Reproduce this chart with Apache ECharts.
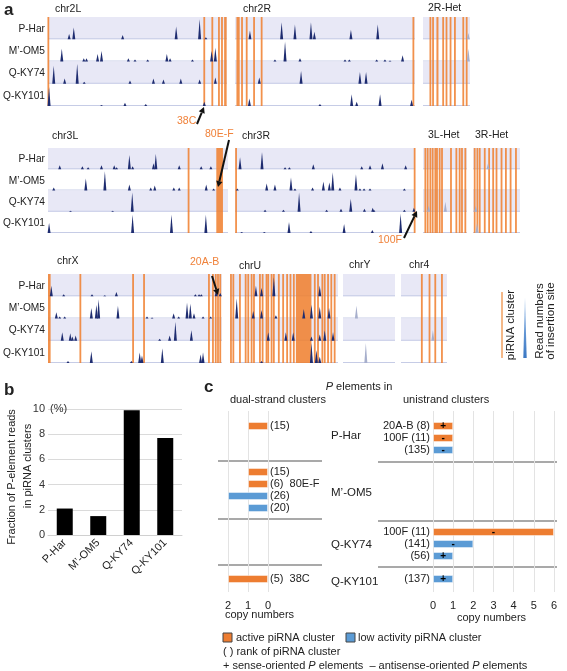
<!DOCTYPE html>
<html><head><meta charset="utf-8">
<script src="https://cdn.jsdelivr.net/npm/echarts@6/dist/echarts.min.js"></script>
<style>html,body{margin:0;padding:0;background:#fff}#c{width:567px;height:671px}</style>
</head><body><div id="c"></div>
<script>
// ---------------- DATA ----------------
const samples = ['P-Har', 'M\u2019-OM5', 'Q-KY74', 'Q-KY101'];

// Panel a: spikes per sample as [position (% of chromosome), relative read number]
const chr2L_spikes = [
  [[11.8,.25],[14.4,.55],[41.7,.2],[71.6,.6],[84.7,.95],[88.2,.1]],
  [[7.7,.6],[20,.15],[21.5,.15],[27.7,.35],[29.9,.5],[44.9,.15],[48.6,.1],[55.7,.1],[66.4,.35],[68.2,.15],[80.7,.1],[91.4,.5],[93.5,.65]],
  [[3.2,.85],[9.3,.25],[16.3,.95],[20.2,.1],[45.8,.15],[58.9,.25],[64.5,.2],[74.2,.25],[84.7,.2],[93.5,.3]],
  [[0.6,.9],[29.9,.05],[43,.15],[54.6,.1],[87.3,.2]]
];
const chr2L_clusters = [[0.2,0.2],[87.3,87.3],[91.8,91.8],[95.0,96.0],[96.8,97.6],[98.4,99.8]];
const chr2R_spikes = [
  [[8.3,.4],[25.9,.8],[33.3,.7],[42.2,.8],[44.1,.35],[64.4,.45],[79.3,.7]],
  [[22.2,.1],[27.8,.95],[36.1,.15],[61.1,.1],[63.5,.1],[78.7,.1],[83.3,.1],[86.1,.05],[93.1,.3]],
  [[13.5,.3],[36.7,.6],[69.4,.55],[72.8,.55]],
  [[8,.35],[47.2,.1],[64.8,.55],[67.6,.2],[80.6,.55],[98.1,.3]]
];
const chr2R_clusters = [[0.8,2.6],[3.4,4.4],[6.0,7.0],[10.6,10.6],[14.8,14.8],[99.1,99.1]];
const chr2RHet_spikes = [[[96.4,.3]],[[96.4,.6]],[],[]];
const chr2RHet_clusters = [[15.7,15.7],[21.4,21.4],[28.6,32.9],[42.9,42.9],[50,50],[58.6,58.6],[67.9,67.9],[85.7,85.7],[92.9,92.9]];
const chr3L_spikes = [
  [[6.5,.2],[19.1,.15],[22.3,.1],[29.7,.2],[36.8,.2],[38.1,.1],[45.2,.7],[47,.15],[58.6,.3],[59.9,.75],[72.9,.2],[85.1,.15],[90.5,.15]],
  [[3.2,.15],[21,.6],[31.6,.95],[45.2,.3],[57.1,.15],[59.3,.25],[69.9,.15],[72.9,.15],[87.9,.3],[92,.1]],
  [[12.5,.05],[35.9,.05],[46.8,.95]],
  [[0.6,.5],[47,.9],[68.6,.9],[87.7,.9]]
];
const chr3L_clusters = [[78.1,78.1],[93.5,97.2]];
const chr3R_spikes = [
  [[2.8,.6],[15,.85],[27.8,.1],[30.2,.1],[43.5,.25],[70.4,.15],[75,.2],[81.9,.3],[94.8,.2]],
  [[1.3,.1],[17.6,.35],[22.2,.3],[31.1,.65],[33.3,.1],[43.1,.15],[49.1,.45],[52.4,.4],[54.3,.9],[58.3,.15],[67.2,.8],[69.4,.1],[71.7,.1],[75,.1],[94.1,.1]],
  [[16.7,.1],[26.9,.1],[35.6,.95],[50.9,.1],[58.9,.15],[64.3,.65],[71.9,.15],[76.5,.2],[77.2,.1],[94.1,.1],[99.4,.2]],
  [[3.7,.05],[16.3,.05],[30,.55],[42.2,.1],[60.6,.45],[76.3,.15],[92,.95]]
];
const chr3R_clusters = [[0.6,0.6],[99.8,99.8]];
const chr3LHet_spikes = [[],[],[[12.9,.3],[50.8,.5]],[]];
const chr3LHet_clusters = [[5.3,5.3],[10.6,10.6],[16.7,16.7],[22,22],[28,28],[31.8,31.8],[37.9,37.9],[43.2,43.2],[63.6,63.6],[75.8,75.8],[83.3,83.3],[88.6,88.6],[96.2,96.2]];
const chr3RHet_spikes = [[[32.1,.3]],[],[[5.7,.3]],[[8.6,.5]]];
const chr3RHet_clusters = [[3.6,3.6],[9.3,9.3],[14.3,14.3],[25,25],[34.3,34.3],[42.9,42.9],[50,50],[60.7,60.7],[70,70],[80,80],[91.4,91.4]];
const chrX_spikes = [
  [[1.9,.5],[9,.1],[25.3,.1],[32.6,.05],[39.3,.2],[84.7,.1],[86.8,.1],[88.1,.1],[96.7,.3],[99,.15]],
  [[4.8,.3],[6.7,.1],[9.6,.1],[24.9,.5],[27.8,.65],[29.1,.9],[40.2,.6],[56.9,.1],[59.8,.05],[72.2,.25],[75.1,.1],[79.9,.75],[81.8,.7],[83.9,.25],[89.1,.1],[93.5,.1]],
  [[8.2,.4],[12.8,.35],[14,.2],[15.9,.25],[64.2,.1],[69.9,.25],[73.2,.9],[82.4,.5]],
  [[11.5,.1],[24.9,.55],[47.9,.1],[52.7,.5],[54,.35],[65.7,.7],[87.7,.4],[89.1,.5]]
];
const chrX_clusters = [[0,1.5],[18.6,18.6],[48.9,48.9],[55.2,55.2],[92.5,92.5],[94.8,94.8],[96.4,96.4],[97.7,97.7],[99,99]];
const chrU_spikes = [
  [[24,.5],[29.2,.4],[40.6,.9],[83.1,.5]],
  [[6.2,.95],[21.5,.35],[29.2,.4],[42.5,.15],[68.3,.45],[75.4,.65],[83.1,.55],[91.7,.5]],
  [[35.4,.4],[51.7,.4],[58.5,.4],[75.4,.2],[83.1,.3],[87.7,.5],[95.4,.4]],
  [[29.2,.1],[75.4,.95],[80,.6],[83.1,.3]]
];
const chrU_clusters = [[0.9,0.9],[3.1,3.1],[9.2,9.2],[14.5,14.5],[16.9,16.9],[20,20],[22.2,22.2],[27.7,27.7],[30.2,30.2],[33.8,33.8],[35.4,35.4],[38.5,38.5],[40.6,40.6],[45.2,45.2],[49.2,49.2],[52.9,52.9],[56,56],[59.1,59.1],[61,75.4],[78.5,78.5],[81.5,81.5],[85.5,85.5],[87.7,87.7],[90.8,90.8],[93.8,93.8],[96.9,96.9]];
const chrY_spikes = [[],[[25.8,.6]],[],[[43.9,.95]]];
const chrY_clusters = [];
const chr4_spikes = [[],[],[[69.3,.5]],[]];
const chr4_clusters = [[45.3,45.3],[62,62],[74.5,74.5],[89,89]];

// Panel b
const bFraction = [2.1, 1.5, 9.9, 7.7];
const bTicks = [0, 2, 4, 6, 8, 10];

// Panel c
const dualRanks  = [['(15)'], ['(15)', '(6)  80E-F', '(26)', '(20)'], [], ['(5)  38C']];
const dualCopies = [[1], [1, 1, 2, 1], [], [2]];
const dualActive = [[1], [1, 1, 0, 0], [], [1]];
const uniRanks   = [['20A-B (8)', '100F (11)', '(135)'], [], ['100F (11)', '(141)', '(56)'], ['(137)']];
const uniCopies  = [[1, 1, 1], [], [6, 2, 1], [1]];
const uniActive  = [[1, 1, 0], [], [1, 0, 0], [0]];
const uniSign    = [['+', '-', '-'], [], ['-', '-', '+'], ['+']];

// ---------------- LAYOUT / STYLE ----------------
const FONT = '"Liberation Sans", Arial, sans-serif';
const NAVY = '#1e2c70', FAINT = '#a7afcc', ORANGE = 'rgba(240,126,44,0.85)', LAV = '#e8e8f6';
const C_OR = '#ed7d31', C_BL = '#5b9bd5';

const blocks = [
  {label:'chr2L', sp:chr2L_spikes, cl:chr2L_clusters, x:48, y:17, w:179, h:89, lx:55, ly:9},
  {label:'chr2R', sp:chr2R_spikes, cl:chr2R_clusters, x:235, y:17, w:180, h:89, lx:243, ly:9},
  {label:'2R-Het', sp:chr2RHet_spikes, cl:chr2RHet_clusters, x:423, y:17, w:47, h:89, lx:428, ly:8, faint:true},
  {label:'chr3L', sp:chr3L_spikes, cl:chr3L_clusters, x:48, y:148, w:180, h:85, lx:52, ly:136},
  {label:'chr3R', sp:chr3R_spikes, cl:chr3R_clusters, x:235, y:148, w:180, h:85, lx:242, ly:136},
  {label:'3L-Het', sp:chr3LHet_spikes, cl:chr3LHet_clusters, x:423, y:148, w:44, h:85, lx:428, ly:135, faint:true},
  {label:'3R-Het', sp:chr3RHet_spikes, cl:chr3RHet_clusters, x:473, y:148, w:47, h:85, lx:475, ly:135, faint:true},
  {label:'chrX', sp:chrX_spikes, cl:chrX_clusters, x:48, y:274, w:174, h:89, lx:57, ly:261},
  {label:'chrU', sp:chrU_spikes, cl:chrU_clusters, x:230, y:274, w:108, h:89, lx:239, ly:266},
  {label:'chrY', sp:chrY_spikes, cl:chrY_clusters, x:343, y:274, w:52, h:89, lx:349, ly:265, faint:true},
  {label:'chr4', sp:chr4_spikes, cl:chr4_clusters, x:401, y:274, w:46, h:89, lx:409, ly:265, faint:true}
];

const grids = [], xAxes = [], yAxes = [], series = [], graphics = [];
function addGrid(g, xa, ya) {
  grids.push(Object.assign({containLabel:false}, g));
  const i = grids.length - 1;
  xAxes.push(Object.assign({gridIndex:i}, xa));
  yAxes.push(Object.assign({gridIndex:i}, ya));
  return i;
}
function T(x, y, text, o) {
  o = o || {};
  graphics.push({type:'text', x:x, y:y, rotation:o.rot || 0, z:100,
    style:{text:text, fill:o.color || '#222', fontSize:o.size || 11, fontFamily:FONT,
      fontWeight:o.weight || 'normal', align:o.align || 'left', verticalAlign:o.va || 'middle', rich:o.rich}});
}
function arrow(x1, y1, x2, y2) {
  const a = Math.atan2(y2 - y1, x2 - x1), L = 6, W = 3.2;
  const bx = x2 - L * Math.cos(a), by = y2 - L * Math.sin(a);
  graphics.push({type:'line', z:100, shape:{x1:x1, y1:y1, x2:bx, y2:by}, style:{stroke:'#111', lineWidth:2}});
  graphics.push({type:'polygon', z:100, shape:{points:[[x2, y2], [bx - W * Math.sin(a), by + W * Math.cos(a)], [bx + W * Math.sin(a), by - W * Math.cos(a)]]}, style:{fill:'#111'}});
}

// ---------------- PANEL A ----------------
blocks.forEach(b => {
  const gi = addGrid({left:b.x, top:b.y, width:b.w, height:b.h},
    {type:'value', min:0, max:100, show:false},
    {type:'value', min:0, max:4, show:false});
  series.push({type:'custom', xAxisIndex:gi, yAxisIndex:gi, silent:true, z:1,
    data: samples.map((s, i) => [50, i]),
    renderItem: (p, api) => {
      const i = api.value(1);
      const tl = api.coord([0, 4 - i]), br = api.coord([100, 3 - i]);
      const ch = [];
      if (i % 2 === 0) ch.push({type:'rect', shape:{x:tl[0], y:tl[1], width:br[0] - tl[0], height:br[1] - tl[1]}, style:{fill:LAV}});
      ch.push({type:'line', shape:{x1:tl[0], y1:br[1] - 0.5, x2:br[0], y2:br[1] - 0.5}, style:{stroke:'#c6cce6', lineWidth:1}});
      return {type:'group', children:ch};
    }});
  series.push({type:'custom', xAxisIndex:gi, yAxisIndex:gi, silent:true, z:2,
    data: b.cl,
    renderItem: (p, api) => {
      const a = api.coord([api.value(0), 4]), c = api.coord([api.value(1), 0]);
      let x = a[0], w = c[0] - a[0];
      if (w < 1.8) { x = (a[0] + c[0]) / 2 - 0.9; w = 1.8; }
      return {type:'rect', shape:{x:x, y:a[1], width:w, height:c[1] - a[1]}, style:{fill:ORANGE}};
    }});
  const sp = [];
  b.sp.forEach((arr, i) => arr.forEach(d => sp.push([d[0], d[1], i])));
  series.push({type:'custom', xAxisIndex:gi, yAxisIndex:gi, silent:true, z:3,
    data: sp,
    renderItem: (p, api) => {
      const x = api.value(0), h = api.value(1), i = api.value(2), base = 3 - i;
      const p0 = api.coord([x, base]), p1 = api.coord([x, base + h * 0.95]);
      return {type:'polygon', shape:{points:[[p0[0] - 1.5, p0[1]], [p1[0], p1[1]], [p0[0] + 1.5, p0[1]]]},
        style:{fill: b.faint ? FAINT : NAVY}};
    }});
  T(b.lx, b.ly, b.label, {size:10.5});
});
// row labels
[17, 148, 274].forEach((top, r) => {
  const h = r === 1 ? 85 : 89;
  samples.forEach((s, i) => T(45, top + h / 8 * (2 * i + 1) + 1, s, {align:'right', size:10.2}));
});
T(4, 10, 'a', {size:17, weight:'bold'});
T(177, 121, '38C', {color:'#f0823a', size:10.5});
T(205, 134, '80E-F', {color:'#f0823a', size:10.5});
T(378, 240, '100F', {color:'#f0823a', size:10.5});
T(190, 262, '20A-B', {color:'#f0823a', size:10.5});
arrow(197, 124, 204, 107);
arrow(229, 140, 218, 187);
arrow(404, 238, 417, 211);
arrow(212, 276, 218, 295);
// legend a
graphics.push({type:'line', shape:{x1:502, y1:292, x2:502, y2:358}, style:{stroke:'#f0a060', lineWidth:1.5}});
T(511, 325, 'piRNA cluster', {rot:Math.PI / 2, align:'center', size:11.5});
graphics.push({type:'polygon', shape:{points:[[525, 297], [523.3, 358], [526.7, 358]]},
  style:{fill:new echarts.graphic.LinearGradient(0, 0, 0, 1, [{offset:0, color:'#9cc0ea'}, {offset:1, color:'#3b78c4'}])}});
T(540, 321, 'Read numbers', {rot:Math.PI / 2, align:'center', size:11.5});
T(551, 321, 'of insertion site', {rot:Math.PI / 2, align:'center', size:11.5});

// ---------------- PANEL B ----------------
const bi = addGrid({left:48, top:409, width:134, height:126},
  {type:'category', data:samples, axisLine:{lineStyle:{color:'#d0d0d0'}}, axisTick:{show:false},
   axisLabel:{rotate:45, fontSize:11, color:'#222', fontFamily:FONT, margin:6, interval:0}},
  {type:'value', min:bTicks[0], max:bTicks[bTicks.length - 1], interval:bTicks[1] - bTicks[0],
   axisLabel:{fontSize:11, color:'#333', fontFamily:FONT, margin:3}, axisLine:{show:false}, axisTick:{show:false},
   splitLine:{lineStyle:{color:'#dadada'}}});
series.push({type:'bar', xAxisIndex:bi, yAxisIndex:bi, data:bFraction, barWidth:16, itemStyle:{color:'#000'}, silent:true});
T(4, 390, 'b', {size:17, weight:'bold'});
T(50, 409, '(%)', {size:11, color:'#333'});
T(12, 477, 'Fraction of P-element reads', {rot:Math.PI / 2, align:'center', size:11});
T(28, 466, 'in piRNA clusters', {rot:Math.PI / 2, align:'center', size:11});

// ---------------- PANEL C ----------------
const cTop = 411, cBottom = 592;
addGrid({left:228, top:cTop, width:40, height:cBottom - cTop},
  {type:'value', min:0, max:2, interval:1, inverse:true, axisLine:{show:false}, axisTick:{show:false},
   splitLine:{lineStyle:{color:'#e3e3e3'}}, axisLabel:{fontSize:11, color:'#222', fontFamily:FONT, margin:8}},
  {type:'value', min:0, max:1, show:false});
addGrid({left:433, top:cTop, width:121, height:cBottom - cTop},
  {type:'value', min:0, max:6, interval:1, axisLine:{show:false}, axisTick:{show:false},
   splitLine:{lineStyle:{color:'#e3e3e3'}}, axisLabel:{fontSize:11, color:'#222', fontFamily:FONT, margin:8}},
  {type:'value', min:0, max:1, show:false});

const groupTop = [420, 466, 526, 573], rowH = 12;
const nRows = samples.map((s, g) => Math.max(dualCopies[g].length, uniCopies[g].length));
function pad(arr, n) { const o = arr.slice(); while (o.length < n) o.push('-'); return o; }
const lblStyle = {fontSize:11, color:'#222', fontFamily:FONT};
samples.forEach((s, g) => {
  const n = nRows[g];
  const cats = Array.from({length:n}, (_, k) => String(k));
  if (dualCopies[g].length) {
    const gi = addGrid({left:228, top:groupTop[g], width:40, height:n * rowH},
      {type:'value', min:0, max:2, inverse:true, show:false},
      {type:'category', inverse:true, data:cats, show:false});
    series.push({type:'bar', xAxisIndex:gi, yAxisIndex:gi, barWidth:8, silent:true,
      data: pad(dualCopies[g].map((v, k) => ({value:v, itemStyle:{color:dualActive[g][k] ? C_OR : C_BL}})), n),
      itemStyle:{borderColor:'rgba(255,255,255,0.45)', borderWidth:1},
      label:Object.assign({show:true, position:'right', distance:2, formatter:p => dualRanks[g][p.dataIndex]}, lblStyle)});
  }
  if (uniCopies[g].length) {
    const gi = addGrid({left:433, top:groupTop[g], width:121, height:n * rowH},
      {type:'value', min:0, max:6, show:false},
      {type:'category', inverse:true, data:cats, show:false});
    series.push({type:'bar', xAxisIndex:gi, yAxisIndex:gi, barWidth:8, silent:true,
      data: pad(uniCopies[g].map((v, k) => ({value:v, itemStyle:{color:uniActive[g][k] ? C_OR : C_BL}})), n),
      itemStyle:{borderColor:'rgba(255,255,255,0.45)', borderWidth:1},
      label:Object.assign({show:true, position:'left', distance:3, formatter:p => uniRanks[g][p.dataIndex]}, lblStyle)});
    series.push({type:'bar', xAxisIndex:gi, yAxisIndex:gi, barWidth:8, barGap:'-100%', silent:true, z:5,
      data: pad(uniCopies[g], n), itemStyle:{color:'rgba(0,0,0,0)'},
      label:{show:true, position:'inside', formatter:p => uniSign[g][p.dataIndex], fontSize:10, fontWeight:'bold', color:'#000', fontFamily:FONT}});
  }
});
// separators
[[461, 519, 565], [462, 521, 567]].forEach((ys, side) => ys.forEach(y => {
  const x1 = side ? 378 : 218, x2 = side ? 557 : 322;
  graphics.push({type:'line', shape:{x1:x1, y1:y, x2:x2, y2:y}, style:{stroke:'#555', lineWidth:1.2}});
}));
// group labels
[436, 493, 545, 582].forEach((y, g) => T(331, y, samples[g], {size:11.5}));
T(204, 387, 'c', {size:17, weight:'bold'});
T(359, 387, '{i|P}{n| elements in}', {align:'center', rich:{i:{fontStyle:'italic', fontSize:11, fontFamily:FONT}, n:{fontSize:11, fontFamily:FONT}}});
T(230, 400, 'dual-strand clusters', {size:11});
T(403, 400, 'unistrand clusters', {size:11});
T(225, 615, 'copy numbers', {size:11});
T(457, 618, 'copy numbers', {size:11});
// legend c
graphics.push({type:'rect', shape:{x:223, y:633, width:9, height:9}, style:{fill:C_OR, stroke:'#444', lineWidth:1}});
T(236, 638, 'active piRNA cluster', {size:11});
graphics.push({type:'rect', shape:{x:346, y:633, width:9, height:9}, style:{fill:C_BL, stroke:'#444', lineWidth:1}});
T(358, 638, 'low activity piRNA cluster', {size:11});
T(223, 652, '( ) rank of piRNA cluster', {size:11});
T(223, 666, '{n|+ sense-oriented }{i|P}{n| elements  \u2013 antisense-oriented }{i|P}{n| elements}',
  {rich:{i:{fontStyle:'italic', fontSize:11, fontFamily:FONT}, n:{fontSize:11, fontFamily:FONT}}});

const chart = echarts.init(document.getElementById('c'));
chart.setOption({
  animation:false,
  backgroundColor:'#fff',
  textStyle:{fontFamily:FONT},
  grid:grids, xAxis:xAxes, yAxis:yAxes, series:series, graphic:graphics
});
</script></body></html>
